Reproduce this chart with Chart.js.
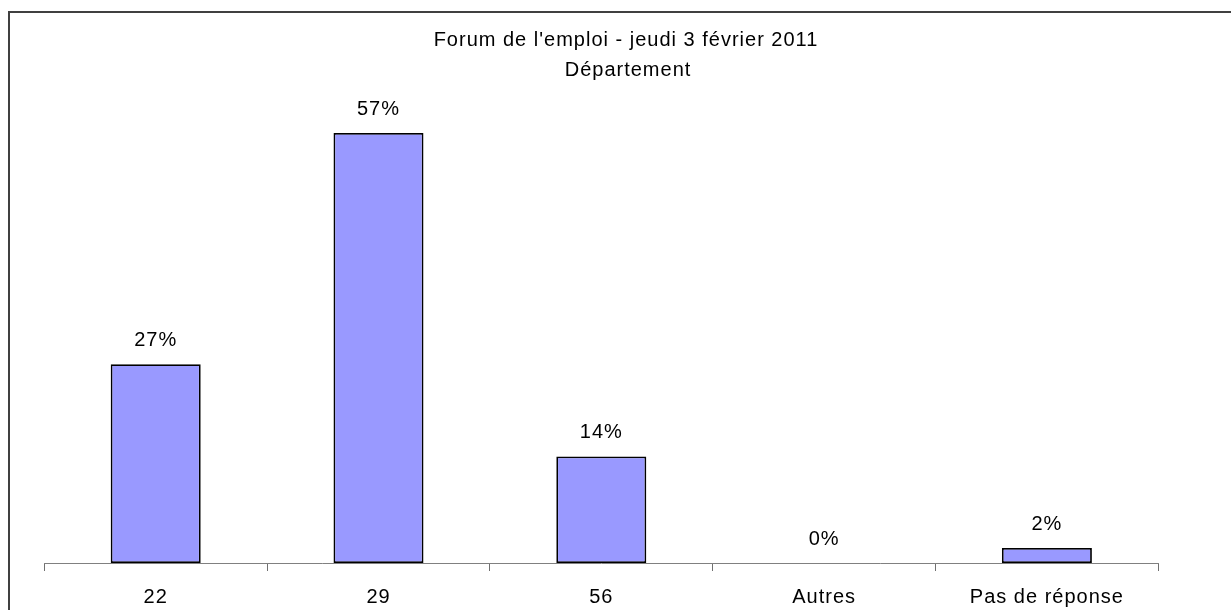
<!DOCTYPE html>
<html>
<head>
<meta charset="utf-8">
<script src="https://cdn.jsdelivr.net/npm/chart.js@4.4.0/dist/chart.umd.min.js"></script>
<style>
  html, body { margin: 0; padding: 0; background: #ffffff; overflow: hidden; }
  #wrap { width: 1231px; height: 610px; position: relative; }
</style>
</head>
<body>
<div id="wrap"><canvas id="c" width="1231" height="610"></canvas></div>
<script>
// ---- data ----
const titleLines = ["Forum de l'emploi - jeudi 3 février 2011", "Département"];
const categories = ["22", "29", "56", "Autres", "Pas de réponse"];
const values = [26.5, 57.3, 14.2, 0, 2.0];
const valueLabels = ["27%", "57%", "14%", "0%", "2%"];

const FONT = '"Liberation Sans", Arial, sans-serif';

const framePlugin = {
  id: 'frameAndTitle',
  beforeDraw(chart) {
    const ctx = chart.ctx;
    ctx.save();
    ctx.fillStyle = '#ffffff';
    ctx.fillRect(0, 0, chart.width, chart.height);
    ctx.strokeStyle = '#404040';
    ctx.lineWidth = 2;
    ctx.strokeRect(9, 12, 1250, 640);
    ctx.restore();
    ctx.letterSpacing = '1px';
  },
  afterDraw(chart) {
    const ctx = chart.ctx;
    ctx.save();
    ctx.letterSpacing = '1px';
    ctx.font = '20px ' + FONT;
    ctx.fillStyle = '#000000';
    ctx.textAlign = 'center';
    ctx.textBaseline = 'middle';
    ctx.fillText(titleLines[0], 626, 40);
    ctx.fillText(titleLines[1], 628, 70);
    ctx.restore();
  }
};

const valueLabelPlugin = {
  id: 'valueLabels',
  afterDatasetsDraw(chart) {
    const ctx = chart.ctx;
    const meta = chart.getDatasetMeta(0);
    ctx.save();
    ctx.letterSpacing = '1px';
    ctx.font = '20px ' + FONT;
    ctx.fillStyle = '#000000';
    ctx.textAlign = 'center';
    ctx.textBaseline = 'middle';
    meta.data.forEach((bar, i) => {
      ctx.fillText(valueLabels[i], bar.x, bar.y - 24);
    });
    ctx.restore();
  }
};

new Chart(document.getElementById('c'), {
  type: 'bar',
  data: {
    labels: categories,
    datasets: [{
      data: values,
      backgroundColor: '#9999FF',
      borderColor: '#000000',
      borderWidth: 1.8,
      borderSkipped: false,
      categoryPercentage: 1.0,
      barPercentage: 0.404
    }]
  },
  options: {
    responsive: false,
    animation: false,
    devicePixelRatio: 1,
    layout: { padding: { top: 112.8, left: 44.3, right: 72.7, bottom: 0 } },
    plugins: {
      legend: { display: false },
      title: { display: false },
      tooltip: { enabled: false }
    },
    scales: {
      y: {
        display: false,
        min: 0,
        max: 60
      },
      x: {
        offset: true,
        afterFit(scale) { scale.height = 47; },
        grid: {
          offset: true,
          drawOnChartArea: false,
          drawTicks: true,
          tickLength: 8,
          tickColor: '#707070',
          tickWidth: 1
        },
        border: { display: true, color: '#808080', width: 1 },
        ticks: {
          color: '#000000',
          font: { family: FONT, size: 20 },
          padding: 14,
          maxRotation: 0,
          autoSkip: false
        }
      }
    }
  },
  plugins: [framePlugin, valueLabelPlugin]
});
</script>
</body>
</html>
